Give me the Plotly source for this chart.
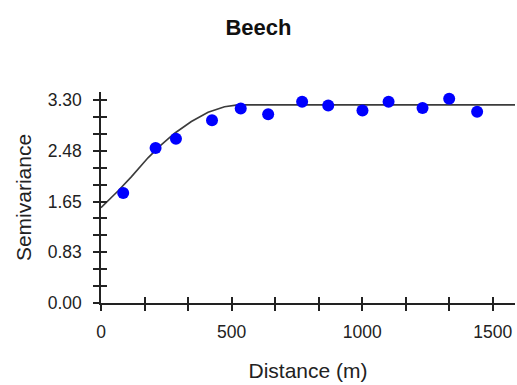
import plotly.graph_objects as go

distance_m = [85, 209, 287, 425, 535, 640, 770, 870, 1001, 1101, 1231, 1333, 1440]
semivariance = [1.79, 2.52, 2.67, 2.97, 3.16, 3.07, 3.27, 3.21, 3.13, 3.27, 3.17, 3.32, 3.11]

# Fitted model curve
model_distance = [0, 65, 116, 180, 225, 282, 346, 410, 473, 524, 1585]
model_semivariance = [1.55, 1.82, 2.05, 2.36, 2.55, 2.76, 2.95, 3.10, 3.19, 3.22, 3.22]

# Axis ticks
y_tickvals = [0, 0.275, 0.55, 0.825, 1.1, 1.375, 1.65, 1.925, 2.2, 2.475, 2.75, 3.025, 3.3]
y_ticktext = ["0.00", "", "", "0.83", "", "", "1.65", "", "", "2.48", "", "", "3.30"]
x_tickvals = [0, 166.67, 333.33, 500, 666.67, 833.33, 1000, 1166.67, 1333.33, 1500]
x_ticktext = ["0", "", "", "500", "", "", "1000", "", "", "1500"]

x_range = [0, 1585]
y_range = [0, 3.43]

FONT = "Liberation Sans, Arial, sans-serif"
AX = "#222222"

fig = go.Figure()
fig.add_trace(go.Scatter(x=model_distance, y=model_semivariance, mode="lines",
                         line=dict(color="#3c3c3c", width=1.6),
                         hoverinfo="skip", showlegend=False))
fig.add_trace(go.Scatter(x=distance_m, y=semivariance, mode="markers",
                         marker=dict(color="#0000FF", size=12, line=dict(width=0)),
                         showlegend=False))
# invisible trace to activate the overlay axes (inside ticks)
fig.add_trace(go.Scatter(x=[None], y=[None], xaxis="x2", yaxis="y2", showlegend=False,
                         hoverinfo="skip"))

common = dict(showgrid=False, zeroline=False, tickcolor=AX, tickwidth=1.5, ticklen=6,
              automargin=False)

fig.update_layout(
    width=517, height=385,
    margin=dict(l=101, r=2, t=92, b=82),
    paper_bgcolor="white", plot_bgcolor="white",
    font=dict(family=FONT, color=AX),
    title=dict(text="<b>Beech</b>", x=0.5, xanchor="center", y=1 - 27 / 385, yanchor="middle",
               font=dict(size=22, color="#111111", family=FONT), automargin=False),
    xaxis=dict(range=x_range, showline=True, linecolor=AX, linewidth=1.5,
               ticks="outside", tickmode="array",
               tickvals=x_tickvals, ticktext=x_ticktext, ticklabelstandoff=6,
               tickfont=dict(size=17.5, family=FONT, color=AX),
               title=dict(text="Distance (m)", font=dict(size=21, family=FONT, color=AX), standoff=23),
               **common),
    yaxis=dict(range=y_range, showline=True, linecolor=AX, linewidth=1.5,
               ticks="outside", tickmode="array",
               tickvals=y_tickvals, ticktext=y_ticktext, ticklabelstandoff=8,
               tickfont=dict(size=17.5, family=FONT, color=AX),
               title=dict(text="Semivariance", font=dict(size=21, family=FONT, color=AX), standoff=10),
               **common),
    xaxis2=dict(range=x_range, overlaying="x", anchor="y2", side="bottom", showline=False,
                ticks="inside", tickmode="array", tickvals=x_tickvals, showticklabels=False,
                **common),
    yaxis2=dict(range=y_range, overlaying="y", anchor="x2", side="left", showline=False,
                ticks="inside", tickmode="array", tickvals=y_tickvals, showticklabels=False,
                **common),
)

fig.write_html("out.html", config={"displayModeBar": False},
               post_script="document.body.style.margin='0';")
